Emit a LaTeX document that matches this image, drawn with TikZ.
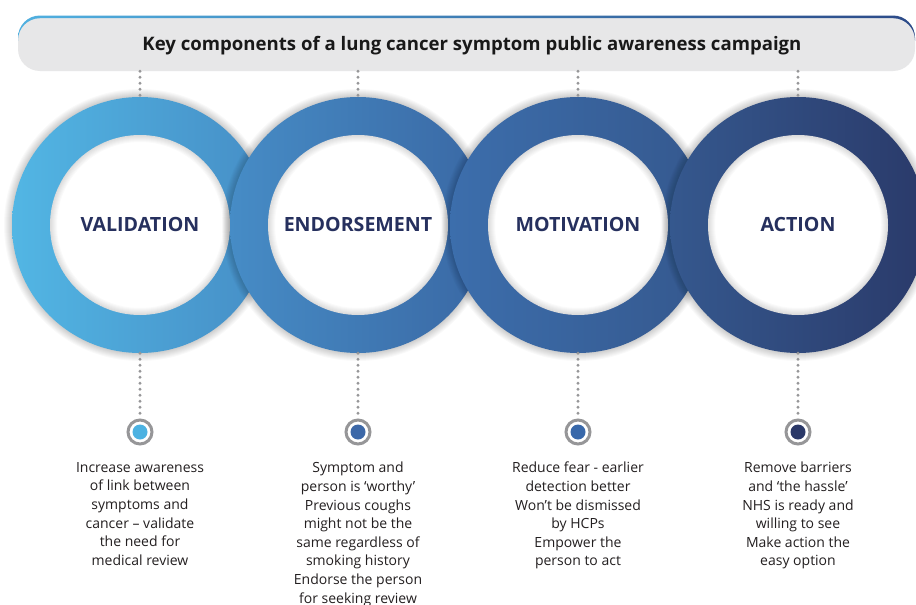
\documentclass[tikz,border=0pt]{standalone}
\usepackage{fontspec}
\setmainfont{Open Sans}
\definecolor{barGray}{RGB}{231,231,232}
\definecolor{lineL}{RGB}{80,176,224}
\definecolor{lineR}{RGB}{44,74,136}
\definecolor{rAl}{RGB}{82,182,228}
\definecolor{rAr}{RGB}{70,142,198}
\definecolor{rBl}{RGB}{70,140,198}
\definecolor{rBr}{RGB}{58,104,164}
\definecolor{rCl}{RGB}{60,110,172}
\definecolor{rCr}{RGB}{53,88,142}
\definecolor{rDl}{RGB}{53,88,142}
\definecolor{rDr}{RGB}{42,58,106}
\definecolor{dA}{RGB}{76,178,226}
\definecolor{dB}{RGB}{60,104,168}
\definecolor{dC}{RGB}{56,104,170}
\definecolor{dD}{RGB}{42,56,104}
\definecolor{navy}{RGB}{38,48,94}
\definecolor{dotgray}{RGB}{150,150,152}
\definecolor{txt}{RGB}{35,31,32}
\tikzset{
  dotline/.style={draw=dotgray, line width=3.2pt, line cap=round, dash pattern=on 0pt off 6pt},
  ringnode/.style={circle, minimum size=256pt, inner sep=0pt},
  marker/.style={circle, draw=dotgray, line width=3pt, fill=white, minimum size=24pt, inner sep=0pt},
  stagelabel/.style={font=\fontsize{19.6}{22}\selectfont\bfseries, text=navy, inner sep=0pt, anchor=base},
  bodytext/.style={font=\fontsize{14}{18.6}\selectfont, text=txt, align=center, inner sep=0pt, anchor=north},
}
\begin{document}
\begin{tikzpicture}[x=1pt,y=-1pt]
\useasboundingbox (0,0) rectangle (916,605);
\fill[white] (0,0) rectangle (916,605);

% title bar
\node[draw=none, fill=barGray, rounded corners=22pt, minimum width=897pt, minimum height=55pt, inner sep=0pt] (bar) at (466.5,43.5) {};
\begin{scope}
\clip (0,0) rectangle (916,40);
\shade[left color=lineL, right color=lineR, even odd rule, rounded corners=22pt]
  (18,15.5) rectangle (915,71) (18,18.2) rectangle (915,73.7);
\end{scope}
\node[font=\fontsize{18.6}{21}\selectfont\bfseries, text=black!90, inner sep=0pt, anchor=base] (title) at (472,50) {Key components of a lung cancer symptom public awareness campaign};

% rings
\foreach \cx/\cl/\cr/\nm in {140/rAl/rAr/1, 358/rBl/rBr/2, 578/rCl/rCr/3, 798/rDl/rDr/4}{
  \foreach \w in {2,4,...,16}
    \draw[black, opacity=0.025, line width=\w pt] (\cx,225) circle [radius=128pt];
  \shade[left color=\cl, right color=\cr] (\cx,225) circle [radius=128pt];
  \fill[white] (\cx,225) circle [radius=90pt];
  \begin{scope}
    \clip (\cx,225) circle [radius=90pt];
    \foreach \w in {2,4,...,14}
      \draw[black, opacity=0.02, line width=\w pt] (\cx,225) circle [radius=90pt];
  \end{scope}
  \node[ringnode] (ring\nm) at (\cx,225) {};
}

\node[stagelabel] (lab1) at (140,231) {VALIDATION};
\node[stagelabel] (lab2) at (358,231) {ENDORSEMENT};
\node[stagelabel] (lab3) at (578,231) {MOTIVATION};
\node[stagelabel] (lab4) at (798,231) {ACTION};

% markers
\node[marker] (mk1) at (140,432) {};
\node[marker] (mk2) at (358,432) {};
\node[marker] (mk3) at (578,432) {};
\node[marker] (mk4) at (798,432) {};
\fill[dA] (mk1) circle [radius=7.5pt];
\fill[dB] (mk2) circle [radius=7.5pt];
\fill[dC] (mk3) circle [radius=7.5pt];
\fill[dD] (mk4) circle [radius=7.5pt];

% connectors
\foreach \i in {1,2,3,4}{
  \draw[dotline] (bar.south -| ring\i.north) -- (ring\i.north);
  \draw[dotline] (ring\i.south) -- (mk\i.north);
}

% descriptions
\node[bodytext] (t1) at (140,462) {Increase awareness\\of link between\\symptoms and\\cancer – validate\\the need for\\medical review};
\node[bodytext] (t2) at (358,462) {Symptom and\\person is ‘worthy’\\Previous coughs\\might not be the\\same regardless of\\smoking history\\Endorse the person\\for seeking review};
\node[bodytext] (t3) at (578,462) {Reduce fear - earlier\\detection better\\Won’t be dismissed\\by HCPs\\Empower the\\person to act};
\node[bodytext] (t4) at (798,462) {Remove barriers\\and ‘the hassle’\\NHS is ready and\\willing to see\\Make action the\\easy option};
\end{tikzpicture}
\end{document}
